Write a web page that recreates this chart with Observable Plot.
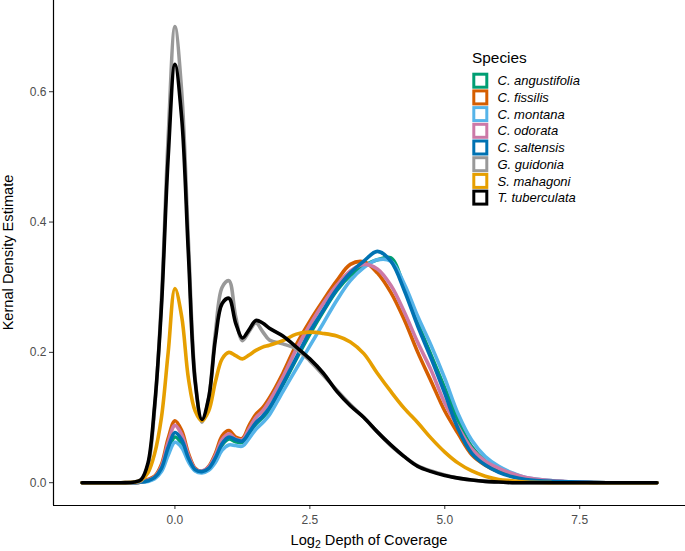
<!DOCTYPE html>
<html>
<head>
<meta charset="utf-8">
<script src="https://cdn.jsdelivr.net/npm/d3@7"></script>
<script src="https://cdn.jsdelivr.net/npm/@observablehq/plot@0.6"></script>
<style>
  html, body { margin: 0; padding: 0; background: #fff; }
  #chart { width: 685px; height: 551px; }
  svg { font-family: "Liberation Sans", Arial, Helvetica, sans-serif; }
</style>
</head>
<body>
<div id="chart"></div>
<script>
// ---- Data ----
const species = ["C. angustifolia", "C. fissilis", "C. montana", "C. odorata", "C. saltensis", "G. guidonia", "S. mahagoni", "T. tuberculata"];
const colors = ["#009E73", "#D55E00", "#56B4E9", "#CC79A7", "#0072B2", "#999999", "#E69F00", "#000000"];

const xGrid = [-1.72, -1.0, -0.75, -0.625, -0.5, -0.375, -0.25, -0.125, 0, 0.125, 0.25, 0.375, 0.5, 0.625, 0.75, 0.875, 1.0, 1.125, 1.25, 1.375, 1.5, 1.625, 1.75, 2.0, 2.25, 2.5, 2.75, 3.0, 3.25, 3.5, 3.75, 4.0, 4.25, 4.5, 4.75, 5.0, 5.25, 5.5, 5.75, 6.0, 6.25, 6.5, 7.0, 7.5, 8.0, 8.93];

const angustifolia = [0, 0, 0, 0.001, 0.003, 0.007, 0.02, 0.048, 0.07, 0.06, 0.035, 0.019, 0.016, 0.021, 0.036, 0.058, 0.067, 0.063, 0.062, 0.076, 0.09, 0.1, 0.112, 0.15, 0.19, 0.228, 0.263, 0.295, 0.318, 0.333, 0.342, 0.345, 0.3, 0.245, 0.195, 0.145, 0.095, 0.055, 0.033, 0.02, 0.012, 0.006, 0.002, 0.001, 0, 0];
const fissilis     = [0, 0, 0, 0.001, 0.005, 0.01, 0.028, 0.068, 0.095, 0.08, 0.045, 0.022, 0.017, 0.025, 0.045, 0.072, 0.08, 0.07, 0.068, 0.088, 0.105, 0.115, 0.13, 0.168, 0.212, 0.248, 0.28, 0.31, 0.335, 0.339, 0.322, 0.292, 0.25, 0.2, 0.155, 0.11, 0.075, 0.043, 0.027, 0.017, 0.01, 0.005, 0.002, 0.001, 0, 0];
const montana      = [0, 0, 0, 0.001, 0.002, 0.006, 0.017, 0.042, 0.062, 0.054, 0.032, 0.018, 0.015, 0.019, 0.031, 0.05, 0.058, 0.057, 0.056, 0.068, 0.082, 0.092, 0.104, 0.14, 0.175, 0.21, 0.245, 0.28, 0.31, 0.33, 0.342, 0.34, 0.305, 0.255, 0.21, 0.16, 0.105, 0.065, 0.04, 0.025, 0.015, 0.008, 0.003, 0.001, 0, 0];
const odorata      = [0, 0, 0, 0.001, 0.004, 0.009, 0.025, 0.062, 0.088, 0.074, 0.042, 0.021, 0.018, 0.024, 0.042, 0.066, 0.075, 0.067, 0.066, 0.083, 0.1, 0.11, 0.125, 0.162, 0.205, 0.242, 0.275, 0.303, 0.325, 0.335, 0.328, 0.303, 0.262, 0.215, 0.172, 0.122, 0.085, 0.052, 0.033, 0.022, 0.014, 0.008, 0.003, 0.001, 0, 0];
const saltensis    = [0, 0, 0, 0.001, 0.003, 0.008, 0.022, 0.054, 0.077, 0.066, 0.038, 0.02, 0.017, 0.022, 0.038, 0.06, 0.07, 0.066, 0.064, 0.077, 0.092, 0.102, 0.115, 0.152, 0.192, 0.232, 0.265, 0.297, 0.322, 0.34, 0.355, 0.34, 0.295, 0.24, 0.19, 0.137, 0.082, 0.045, 0.027, 0.016, 0.009, 0.005, 0.002, 0.001, 0, 0];
const guidonia     = [0, 0, 0.0005, 0.003, 0.025, 0.115, 0.28, 0.53, 0.70, 0.60, 0.37, 0.16, 0.093, 0.13, 0.23, 0.30, 0.31, 0.255, 0.218, 0.232, 0.245, 0.232, 0.219, 0.213, 0.205, 0.187, 0.165, 0.142, 0.12, 0.1, 0.078, 0.057, 0.04, 0.026, 0.018, 0.012, 0.007, 0.004, 0.002, 0.001, 0, 0, 0, 0, 0, 0];
const mahagoni     = [0, 0, 0.001, 0.004, 0.015, 0.045, 0.1, 0.2, 0.298, 0.255, 0.16, 0.11, 0.095, 0.11, 0.155, 0.19, 0.2, 0.195, 0.19, 0.196, 0.203, 0.208, 0.211, 0.218, 0.228, 0.231, 0.229, 0.225, 0.216, 0.198, 0.168, 0.14, 0.114, 0.092, 0.068, 0.047, 0.03, 0.018, 0.01, 0.005, 0.003, 0.001, 0, 0, 0, 0];
const tuberculata  = [0, 0, 0.001, 0.005, 0.03, 0.12, 0.27, 0.5, 0.642, 0.56, 0.35, 0.155, 0.097, 0.13, 0.22, 0.275, 0.283, 0.245, 0.222, 0.235, 0.249, 0.245, 0.237, 0.225, 0.208, 0.19, 0.168, 0.14, 0.118, 0.1, 0.078, 0.058, 0.04, 0.025, 0.017, 0.011, 0.007, 0.004, 0.002, 0.001, 0, 0, 0, 0, 0, 0];

const xTicks = [0, 2.5, 5.0, 7.5];
const yTicks = [0, 0.2, 0.4, 0.6];

const series = [angustifolia, fissilis, montana, odorata, saltensis, guidonia, mahagoni, tuberculata];
const rows = [];
series.forEach((vals, i) => vals.forEach((v, j) => rows.push({species: species[i], x: xGrid[j], y: v})));

// ---- Chart ----
const W = 685, H = 551;
const xDom = [-2.25, 9.46], yDom = [-0.035, 0.74];
const font = '"Liberation Sans", Arial, Helvetica, sans-serif';

const chart = Plot.plot({
  width: W, height: H,
  marginLeft: 53, marginRight: 0, marginTop: 0, marginBottom: 46,
  style: {fontFamily: font, background: "#fff"},
  x: {domain: xDom},
  y: {domain: yDom},
  color: {domain: species, range: colors},
  marks: [
    Plot.axisX({ticks: xTicks, tickFormat: d => d.toFixed(1), tickSize: 4, tickPadding: 6, fontSize: 12, label: null, fill: "#4d4d4d", stroke: "#333"}),
    Plot.axisY({ticks: yTicks, tickFormat: d => d.toFixed(1), tickSize: 4, tickPadding: 3, fontSize: 12, label: null, fill: "#4d4d4d", stroke: "#333"}),
    Plot.line(rows, {x: "x", y: "y", z: "species", stroke: "species", strokeWidth: 3.6, curve: "catmull-rom", strokeLinecap: "round", strokeLinejoin: "round"}),
    Plot.ruleX([xDom[0]], {stroke: "#000", strokeWidth: 1.2}),
    Plot.ruleY([yDom[0]], {stroke: "#000", strokeWidth: 1.2})
  ]
});

document.getElementById("chart").appendChild(chart);

const svg = d3.select(chart);
// axis titles
const xt = svg.append("text")
  .attr("x", (53 + W) / 2).attr("y", 545)
  .attr("text-anchor", "middle").attr("font-size", 14.6).attr("fill", "#000")
  .attr("font-family", font);
xt.append("tspan").text("Log");
xt.append("tspan").text("2").attr("font-size", 10.5).attr("dy", 3);
xt.append("tspan").text(" Depth of Coverage").attr("dy", -3);

svg.append("text")
  .attr("transform", `translate(13, ${(0 + H - 46) / 2}) rotate(-90)`)
  .attr("text-anchor", "middle").attr("font-size", 14.6).attr("fill", "#000")
  .attr("font-family", font)
  .text("Kernal Density Estimate");

// legend
const lg = svg.append("g").attr("font-family", font).attr("text-anchor", "start");
lg.append("text").attr("x", 472).attr("y", 63).attr("font-size", 15.4).attr("fill", "#000")
  .attr("text-anchor", "start").text("Species");
species.forEach((s, i) => {
  const cy = 80.7 + i * 16.7;
  lg.append("rect").attr("x", 473.8).attr("y", cy - 6.5).attr("width", 13).attr("height", 13)
    .attr("fill", "#fff").attr("stroke", colors[i]).attr("stroke-width", 3);
  lg.append("text").attr("x", 497.5).attr("y", cy + 4.6).attr("font-size", 13)
    .attr("text-anchor", "start")
    .attr("font-style", "italic").attr("fill", "#000").text(s);
});
</script>
</body>
</html>
